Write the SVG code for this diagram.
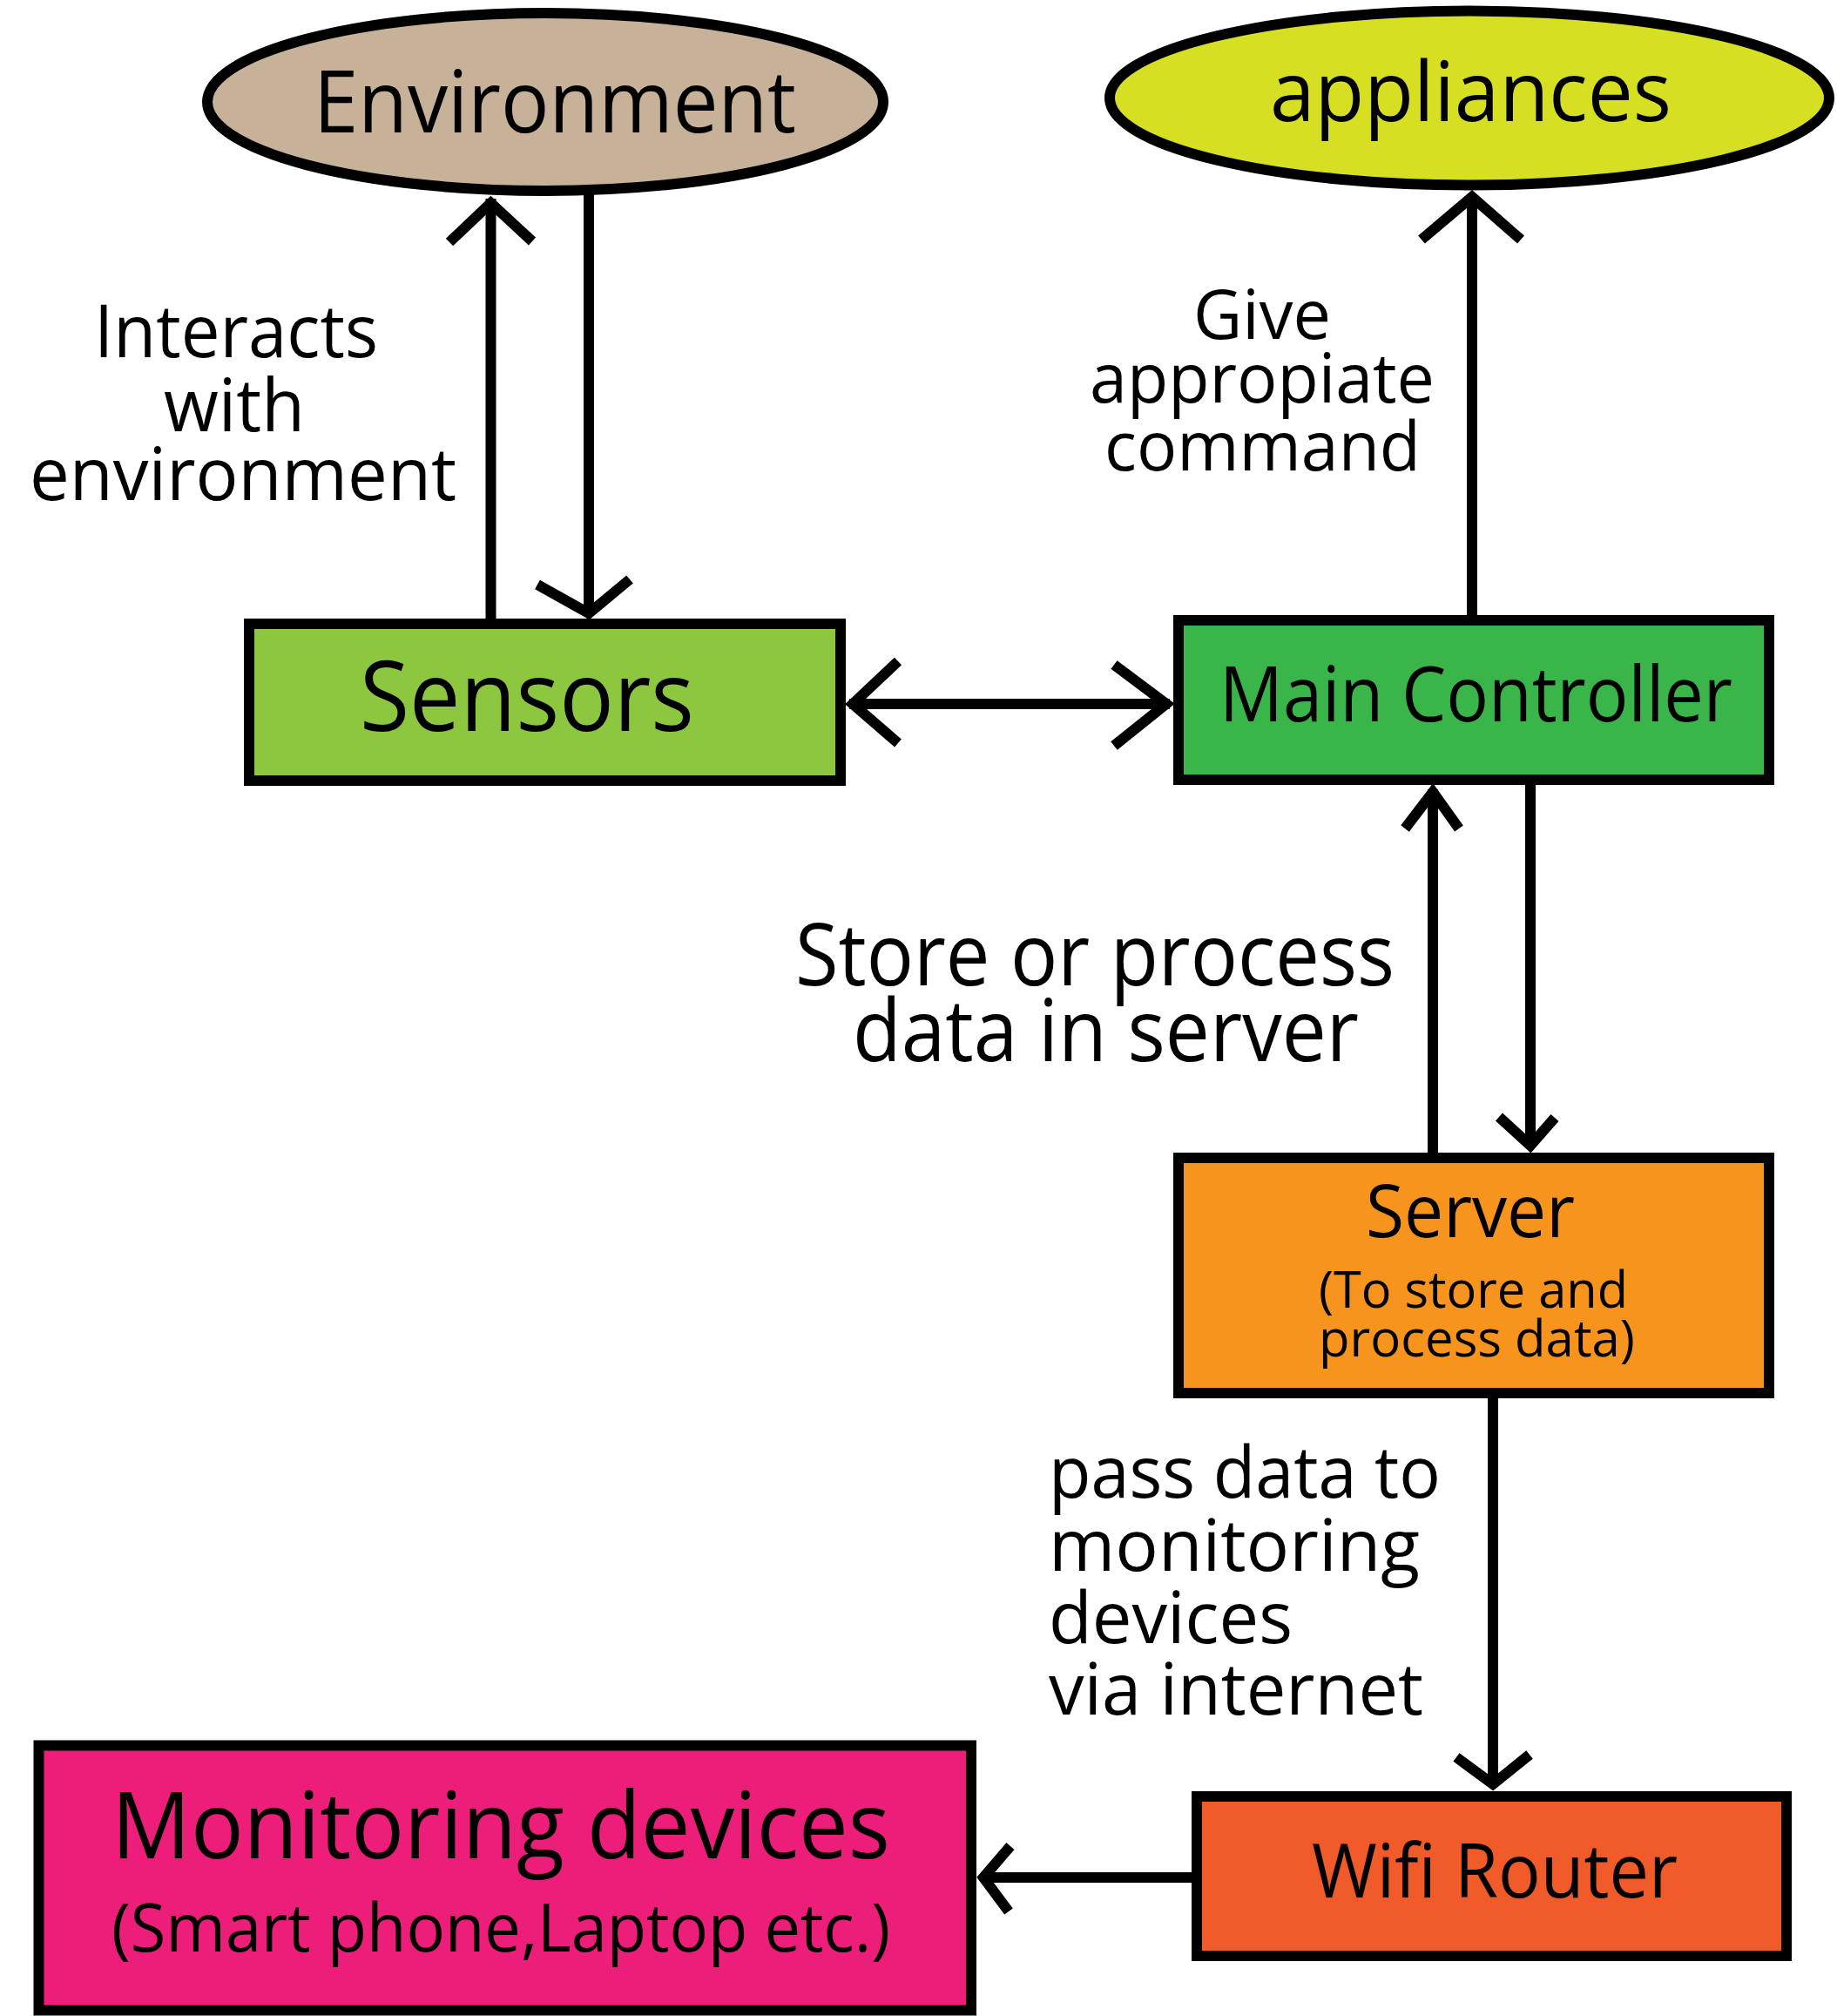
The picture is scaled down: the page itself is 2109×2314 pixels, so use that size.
<svg xmlns="http://www.w3.org/2000/svg" width="2109" height="2314" viewBox="0 0 2109 2314">
<style>
.shape{stroke:#000;stroke-width:12}
.ln{fill:none;stroke:#000;stroke-width:12}
.ah{fill:none;stroke:#000;stroke-width:12;stroke-linejoin:miter;stroke-miterlimit:10;stroke-linecap:butt}
text{font-family:"Open Sans","Noto Sans","Liberation Sans",sans-serif;fill:#000}
</style>
<rect width="2109" height="2314" fill="#fff"/>
<g id="connectors">
<line class="ln" x1="563.5" y1="228" x2="563.5" y2="712"/>
<polyline class="ah" points="516,278 563.5,233 611,277"/>
<line class="ln" x1="676" y1="222" x2="676" y2="703"/>
<polyline class="ah" points="617,671 676,704 723,665"/>
<line class="ln" x1="975" y1="808" x2="1343" y2="808"/>
<polyline class="ah" points="1031,759 979,808 1031,853"/>
<polyline class="ah" points="1279,763 1339,808 1279,856"/>
<line class="ln" x1="1690" y1="228" x2="1690" y2="708"/>
<polyline class="ah" points="1632,275 1690,226 1746,275"/>
<line class="ln" x1="1645" y1="906" x2="1645" y2="1324"/>
<polyline class="ah" points="1613,951 1645,909 1675,951"/>
<line class="ln" x1="1757" y1="900" x2="1757" y2="1316"/>
<polyline class="ah" points="1721,1282 1757,1315 1785,1283"/>
<line class="ln" x1="1714" y1="1600" x2="1714" y2="2049"/>
<polyline class="ah" points="1672,2017 1714,2048 1756,2014"/>
<line class="ln" x1="1374" y1="2155" x2="1126" y2="2155"/>
<polyline class="ah" points="1160,2119 1129,2155 1158,2194"/>
</g>
<g id="environment">
<ellipse class="shape" cx="626" cy="117" rx="388" ry="102" fill="#C7B299"/>
<text x="360" y="152" font-size="98" textLength="554" lengthAdjust="spacingAndGlyphs">Environment</text>
</g>
<g id="appliances">
<ellipse class="shape" cx="1687" cy="112.5" rx="413" ry="100" fill="#D7DF23"/>
<text x="1458" y="139" font-size="96" textLength="461" lengthAdjust="spacingAndGlyphs">appliances</text>
</g>
<g id="sensors">
<rect class="shape" x="286" y="716" width="679" height="180" fill="#8DC63F"/>
<text x="413" y="839" font-size="112" textLength="384" lengthAdjust="spacingAndGlyphs">Sensors</text>
</g>
<g id="main-controller">
<rect class="shape" x="1353" y="712" width="678" height="183" fill="#39B54A"/>
<text x="1400" y="828" font-size="87" textLength="589" lengthAdjust="spacingAndGlyphs">Main Controller</text>
</g>
<g id="server">
<rect class="shape" x="1353" y="1329" width="678" height="270" fill="#F7941D"/>
<text x="1568" y="1420" font-size="84" textLength="240" lengthAdjust="spacingAndGlyphs">Server</text>
<text x="1514" y="1501" font-size="58" textLength="355" lengthAdjust="spacingAndGlyphs">(To store and</text>
<text x="1514" y="1557" font-size="58" textLength="363" lengthAdjust="spacingAndGlyphs">process data)</text>
</g>
<g id="wifi-router">
<rect class="shape" x="1374" y="2062" width="677" height="183" fill="#F15A29"/>
<text x="1506" y="2178" font-size="86" textLength="420" lengthAdjust="spacingAndGlyphs">Wifi Router</text>
</g>
<g id="monitoring-devices">
<rect class="shape" x="44.5" y="2003.5" width="1070.5" height="304" fill="#ED1E79"/>
<text x="128" y="2133" font-size="106" textLength="894" lengthAdjust="spacingAndGlyphs">Monitoring devices</text>
<text x="128" y="2240" font-size="76" textLength="894" lengthAdjust="spacingAndGlyphs">(Smart phone,Laptop etc.)</text>
</g>
<g id="labels">
<text x="108" y="410" font-size="84" textLength="326" lengthAdjust="spacingAndGlyphs">Interacts</text>
<text x="188" y="495" font-size="84" textLength="162" lengthAdjust="spacingAndGlyphs">with</text>
<text x="34" y="574" font-size="84" textLength="490" lengthAdjust="spacingAndGlyphs">environment</text>
<text x="1370" y="389" font-size="78" textLength="158" lengthAdjust="spacingAndGlyphs">Give</text>
<text x="1251" y="462" font-size="78" textLength="396" lengthAdjust="spacingAndGlyphs">appropiate</text>
<text x="1268" y="540" font-size="78" textLength="363" lengthAdjust="spacingAndGlyphs">command</text>
<text x="913" y="1131" font-size="98" textLength="688" lengthAdjust="spacingAndGlyphs">Store or process</text>
<text x="979" y="1218" font-size="98" textLength="581" lengthAdjust="spacingAndGlyphs">data in server</text>
<text x="1204" y="1719" font-size="82" textLength="450" lengthAdjust="spacingAndGlyphs">pass data to</text>
<text x="1204" y="1803" font-size="82" textLength="426" lengthAdjust="spacingAndGlyphs">monitoring</text>
<text x="1204" y="1886" font-size="82" textLength="280" lengthAdjust="spacingAndGlyphs">devices</text>
<text x="1204" y="1968" font-size="82" textLength="430" lengthAdjust="spacingAndGlyphs">via internet</text>
</g>
</svg>
